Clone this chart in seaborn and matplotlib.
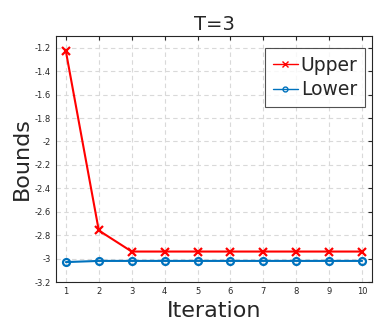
import matplotlib
matplotlib.use("Agg")
import matplotlib.pyplot as plt
import seaborn as sns
import pandas as pd

iteration = [1, 2, 3, 4, 5, 6, 7, 8, 9, 10]
upper = [-1.23, -2.76, -2.94, -2.94, -2.94, -2.94, -2.94, -2.94, -2.94, -2.94]
lower = [-3.03, -3.02, -3.02, -3.02, -3.02, -3.02, -3.02, -3.02, -3.02, -3.02]

df = pd.DataFrame({"Iteration": iteration, "Upper": upper, "Lower": lower})

sns.set_style("white")
plt.rcParams['font.family'] = ['DejaVu Sans']

fig = plt.figure(figsize=(3.82, 3.27), dpi=100)
ax = fig.add_axes([0.1466, 0.1376, 0.8272, 0.7523])

sns.lineplot(data=df, x="Iteration", y="Upper", ax=ax, color="#ff0000", marker="x",
             markersize=6, markeredgewidth=1.6, markeredgecolor="#ff0000",
             linestyle="-", linewidth=1.5, label="Upper")
sns.lineplot(data=df, x="Iteration", y="Lower", ax=ax, color="#0072bd", marker="o",
             markersize=5, markerfacecolor="none", markeredgecolor="#0072bd",
             markeredgewidth=1.6, linestyle="-", linewidth=1.5, label="Lower")

ax.set_xlim(0.7, 10.3)
ax.set_ylim(-3.2, -1.1)
ax.set_xticks(iteration)
ax.set_yticks([-3.2, -3, -2.8, -2.6, -2.4, -2.2, -2, -1.8, -1.6, -1.4, -1.2])
ax.set_yticklabels(["-3.2", "-3", "-2.8", "-2.6", "-2.4", "-2.2", "-2", "-1.8", "-1.6", "-1.4", "-1.2"])
ax.tick_params(direction="in", labelsize=6, colors="#262626", length=3, top=True, right=True,
               labeltop=False, labelright=False)
ax.grid(True, linestyle=(0, (4, 3)), color="#d9d9d9", linewidth=0.8)
for s in ax.spines.values():
    s.set_color("#262626")
    s.set_linewidth(0.8)

ax.set_title("T=3", fontsize=14, pad=4)
ax.set_xlabel("Iteration", fontsize=16, color="#262626", labelpad=4)
ax.set_ylabel("Bounds", fontsize=16, color="#262626", labelpad=2)

leg = ax.legend(loc="upper right", bbox_to_anchor=(0.978, 0.95), fontsize=13.5,
                frameon=True, fancybox=False, edgecolor="#262626", handlelength=1.35,
                handletextpad=0.15, borderpad=0.4, labelspacing=0.3, borderaxespad=0,
                markerscale=0.7)
leg.get_frame().set_linewidth(0.8)
for h in leg.get_lines():
    h.set_markeredgewidth(1.0)
    h.set_linewidth(1.0)

fig.savefig("out.png", dpi=100)
